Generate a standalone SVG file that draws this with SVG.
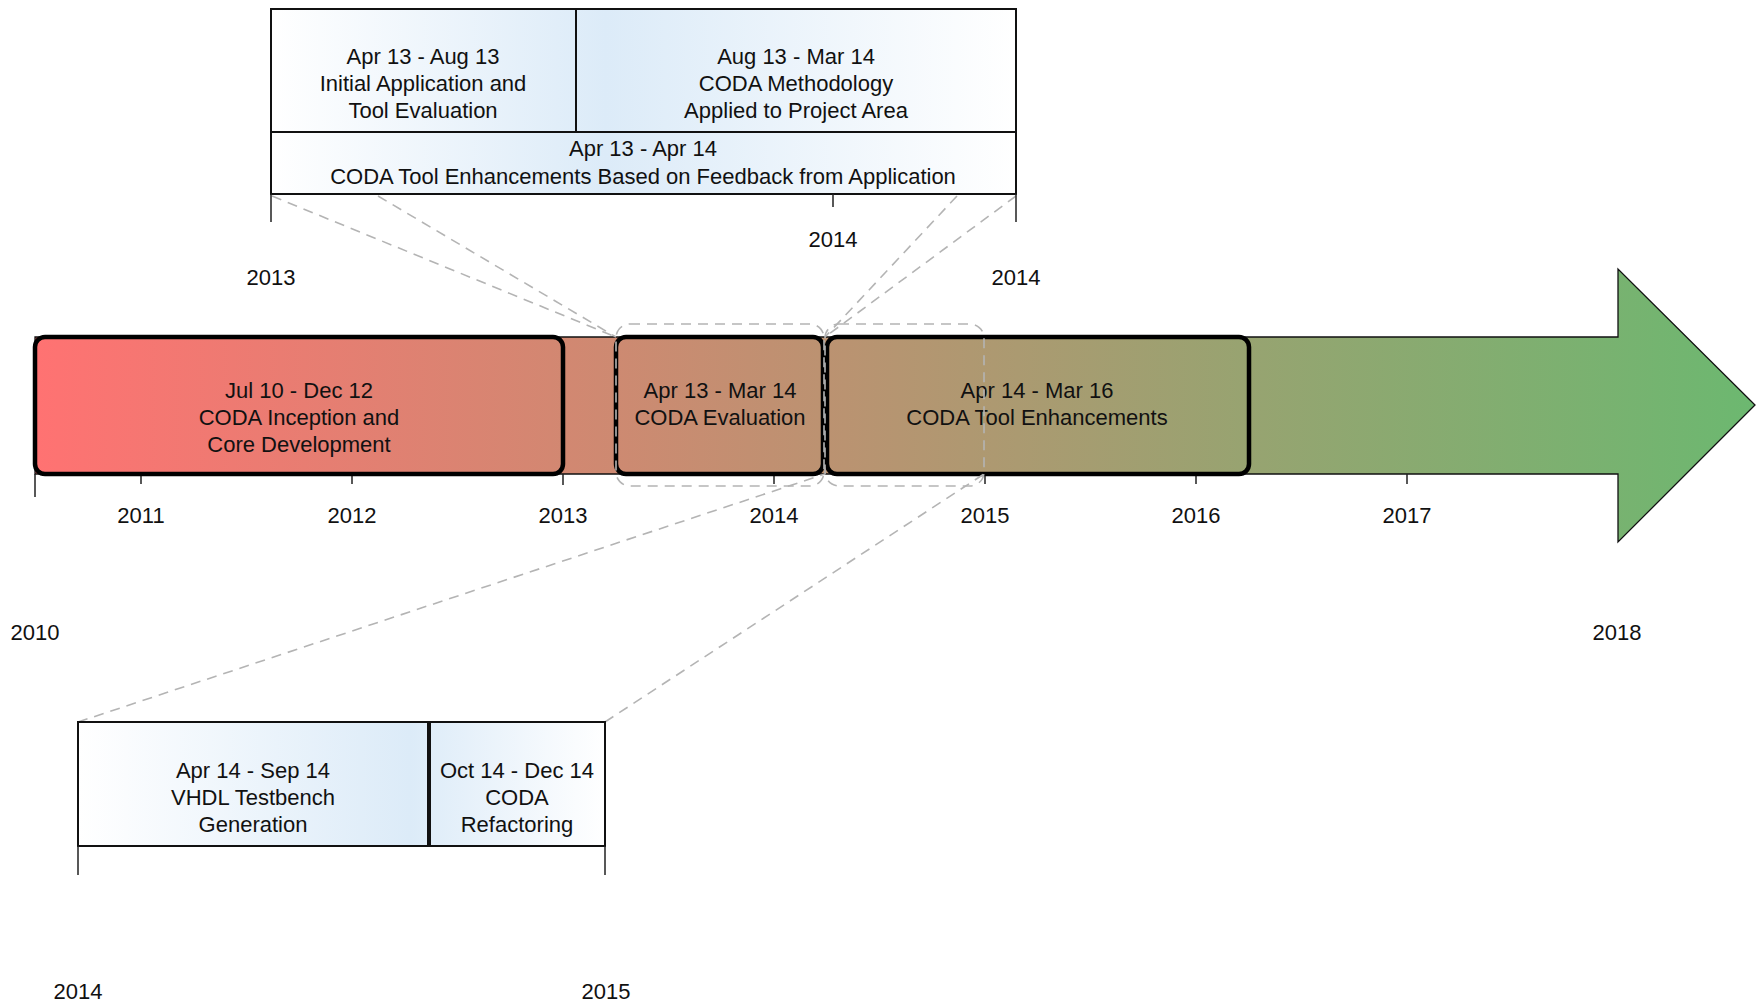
<svg xmlns="http://www.w3.org/2000/svg" width="1760" height="1003" viewBox="0 0 1760 1003">
<defs>
<linearGradient id="gArrow" gradientUnits="userSpaceOnUse" x1="35" y1="0" x2="1755" y2="0">
<stop offset="0" stop-color="#ff7272"/>
<stop offset="1" stop-color="#6cb870"/>
</linearGradient>
<linearGradient id="gTop" gradientUnits="userSpaceOnUse" x1="270" y1="0" x2="1016" y2="0">
<stop offset="0" stop-color="#ffffff"/>
<stop offset="0.45" stop-color="#dcebf8"/>
<stop offset="1" stop-color="#ffffff"/>
</linearGradient>
<linearGradient id="gBot" gradientUnits="userSpaceOnUse" x1="78" y1="0" x2="605" y2="0">
<stop offset="0" stop-color="#ffffff"/>
<stop offset="0.63" stop-color="#dcebf8"/>
<stop offset="1" stop-color="#ffffff"/>
</linearGradient>
<style>
text{font-family:"Liberation Sans",Arial,sans-serif;font-size:22px;fill:#111;text-anchor:middle}
.phase{fill:none;stroke:#000;stroke-width:4.5}
.zoom{fill:url(#gTop);stroke:#111;stroke-width:2}
.zoomb{fill:url(#gBot);stroke:#111;stroke-width:2}
.tick{stroke:#222;stroke-width:1.5;fill:none}
.dash{stroke:#b4b4b4;stroke-width:1.6;stroke-dasharray:10 7;fill:none}
</style>
</defs>
<rect width="1760" height="1003" fill="#fff"/>

<g id="timeline-arrow">
<path d="M35,337 H1618 V269 L1755,405 L1618,542 V474 H35 Z" fill="url(#gArrow)" stroke="#111" stroke-width="1.3"/>
<path class="tick" d="M35,474 V497 M141,474 V484 M352,474 V484 M563,474 V485 M774,474 V484 M985,474 V484 M1196,474 V484 M1407,474 V484"/>
<text x="141" y="523">2011</text>
<text x="352" y="523">2012</text>
<text x="563" y="523">2013</text>
<text x="774" y="523">2014</text>
<text x="985" y="523">2015</text>
<text x="1196" y="523">2016</text>
<text x="1407" y="523">2017</text>
<text x="35" y="640">2010</text>
<text x="1617" y="640">2018</text>
</g>

<g id="phase-inception">
<rect class="phase" x="35" y="337" width="528" height="137" rx="10"/>
<text x="299" y="398">Jul 10 - Dec 12</text>
<text x="299" y="425">CODA Inception and</text>
<text x="299" y="452">Core Development</text>
</g>

<g id="phase-evaluation">
<rect class="phase" x="616" y="337" width="207" height="137" rx="10"/>
<text x="720" y="398">Apr 13 - Mar 14</text>
<text x="720" y="425">CODA Evaluation</text>
</g>

<g id="phase-enhancements">
<rect class="phase" x="827" y="337" width="422" height="137" rx="10"/>
<text x="1037" y="398">Apr 14 - Mar 16</text>
<text x="1037" y="425">CODA Tool Enhancements</text>
</g>

<g id="connectors">
<rect class="dash" x="616" y="324" width="208" height="162" rx="14"/>
<rect class="dash" x="825" y="324" width="159" height="162" rx="14"/>
<line class="dash" x1="272" y1="196" x2="616" y2="337"/>
<line class="dash" x1="378" y1="196" x2="616" y2="337"/>
<line class="dash" x1="957" y1="196" x2="825" y2="337"/>
<line class="dash" x1="1016" y1="196" x2="825" y2="337"/>
<line class="dash" x1="78" y1="722" x2="825" y2="474"/>
<line class="dash" x1="605" y1="722" x2="984" y2="474"/>
</g>

<g id="zoom-top">
<rect class="zoom" x="271" y="9" width="305" height="123"/>
<rect class="zoom" x="576" y="9" width="440" height="123"/>
<rect class="zoom" x="271" y="132" width="745" height="62"/>
<path class="tick" d="M271,194 V222 M833,194 V207 M1016,194 V222"/>
<text x="423" y="64">Apr 13 - Aug 13</text>
<text x="423" y="91">Initial Application and</text>
<text x="423" y="118">Tool Evaluation</text>
<text x="796" y="64">Aug 13 - Mar 14</text>
<text x="796" y="91">CODA Methodology</text>
<text x="796" y="118">Applied to Project Area</text>
<text x="643" y="156">Apr 13 - Apr 14</text>
<text x="643" y="184">CODA Tool Enhancements Based on Feedback from Application</text>
<text x="833" y="247">2014</text>
<text x="271" y="285">2013</text>
<text x="1016" y="285">2014</text>
</g>

<g id="zoom-bottom">
<rect class="zoomb" x="78" y="722" width="350" height="124"/>
<rect class="zoomb" x="430" y="722" width="175" height="124"/>
<path class="tick" d="M78,846 V875 M605,846 V875"/>
<text x="253" y="778">Apr 14 - Sep 14</text>
<text x="253" y="805">VHDL Testbench</text>
<text x="253" y="832">Generation</text>
<text x="517" y="778">Oct 14 - Dec 14</text>
<text x="517" y="805">CODA</text>
<text x="517" y="832">Refactoring</text>
<text x="78" y="999">2014</text>
<text x="606" y="999">2015</text>
</g>
</svg>
